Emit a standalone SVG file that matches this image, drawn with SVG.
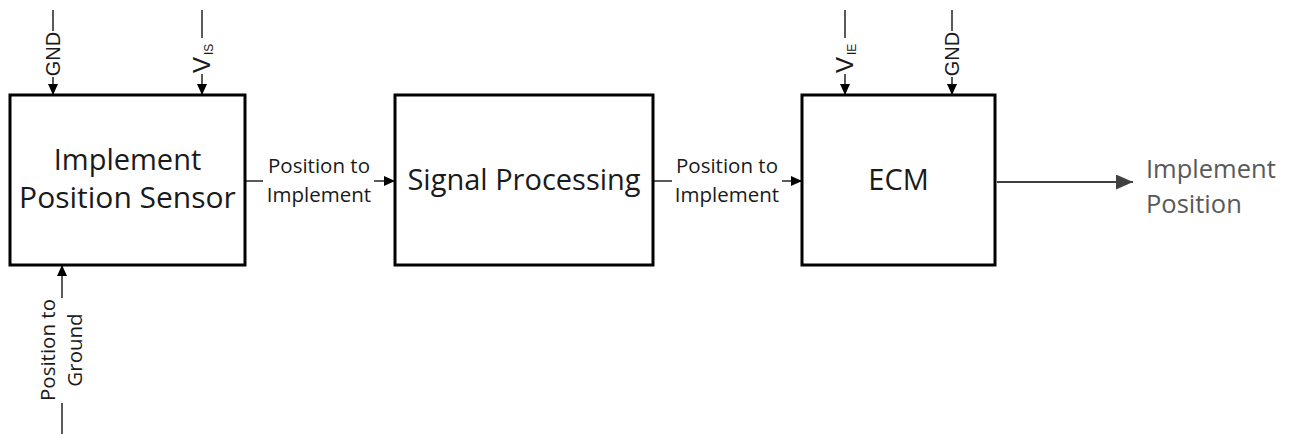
<svg xmlns="http://www.w3.org/2000/svg" width="1298" height="434" viewBox="0 0 1298 434">
  <style>
    .box { fill: #ffffff; stroke: #000000; stroke-width: 3; }
    .wire { stroke: #000000; stroke-width: 1.3; fill: none; }
    .big { font-family: "Open Sans", "Liberation Sans", sans-serif; font-size: 29px; fill: #1a1a1a; text-anchor: middle; }
    .lbl { font-family: "Open Sans", "Liberation Sans", sans-serif; font-size: 20.5px; fill: #1a1a1a; text-anchor: middle; }
    .pin { font-family: "Liberation Sans", Arial, sans-serif; font-size: 20px; fill: #1a1a1a; }
    .vv { font-size: 24px; }
    .sub { font-size: 12px; }
    .out { font-family: "Open Sans", "Liberation Sans", sans-serif; font-size: 25.5px; fill: #595959; }
  </style>
  <defs>
    <marker id="ah" markerWidth="11" markerHeight="10" refX="11" refY="5" orient="auto" markerUnits="userSpaceOnUse">
      <path d="M0,0 L11,5 L0,10 Z" fill="#000000"/>
    </marker>
    <marker id="ahOut" markerWidth="17" markerHeight="15" refX="17" refY="7.5" orient="auto" markerUnits="userSpaceOnUse">
      <path d="M0,0 L17,7.5 L0,15 Z" fill="#404040"/>
    </marker>
  </defs>

  <g id="connectors">
    <!-- top inputs to sensor -->
    <line class="wire" x1="53" y1="10" x2="53" y2="31"/>
    <line class="wire" x1="53" y1="77" x2="53" y2="95" marker-end="url(#ah)"/>
    <line class="wire" x1="202" y1="10" x2="202" y2="38"/>
    <line class="wire" x1="202" y1="74" x2="202" y2="95" marker-end="url(#ah)"/>
    <!-- top inputs to ECM -->
    <line class="wire" x1="845" y1="10" x2="845" y2="38"/>
    <line class="wire" x1="845" y1="74" x2="845" y2="95" marker-end="url(#ah)"/>
    <line class="wire" x1="952" y1="10" x2="952" y2="31"/>
    <line class="wire" x1="952" y1="77" x2="952" y2="95" marker-end="url(#ah)"/>
    <!-- bottom input -->
    <line class="wire" x1="62" y1="298" x2="62" y2="265" marker-end="url(#ah)"/>
    <line class="wire" x1="62" y1="403" x2="62" y2="434"/>
    <!-- sensor to processing -->
    <line class="wire" x1="246" y1="181" x2="263" y2="181"/>
    <line class="wire" x1="374" y1="181" x2="395" y2="181" marker-end="url(#ah)"/>
    <!-- processing to ECM -->
    <line class="wire" x1="654" y1="181" x2="672" y2="181"/>
    <line class="wire" x1="782" y1="181" x2="802" y2="181" marker-end="url(#ah)"/>
    <!-- output -->
    <line x1="997" y1="182" x2="1133" y2="182" stroke="#404040" stroke-width="2" marker-end="url(#ahOut)"/>

    <!-- connector labels -->
    <text class="pin" transform="translate(60,54) rotate(-90)" text-anchor="middle">GND</text>
    <text class="pin" transform="translate(959,54) rotate(-90)" text-anchor="middle">GND</text>
    <text class="pin" transform="translate(210,73) rotate(-90)"><tspan class="vv">V</tspan><tspan class="sub" dx="2" dy="3">IS</tspan></text>
    <text class="pin" transform="translate(853,73) rotate(-90)"><tspan class="vv">V</tspan><tspan class="sub" dx="2" dy="3">IE</tspan></text>
    <g transform="translate(0,350) rotate(-90)">
      <text class="lbl" x="0" y="55">Position to</text>
      <text class="lbl" x="0" y="82">Ground</text>
    </g>
    <text class="lbl" x="319" y="173">Position to</text>
    <text class="lbl" x="319" y="202">Implement</text>
    <text class="lbl" x="727" y="173">Position to</text>
    <text class="lbl" x="727" y="202">Implement</text>
  </g>

  <g id="sensor">
    <rect class="box" x="10" y="95" width="235" height="170"/>
    <text class="big" x="127.5" y="170">Implement</text>
    <text class="big" x="127.5" y="208" style="font-size:30px">Position Sensor</text>
  </g>

  <g id="processing">
    <rect class="box" x="395" y="95" width="258" height="170"/>
    <text class="big" x="524" y="190">Signal Processing</text>
  </g>

  <g id="ecm">
    <rect class="box" x="802" y="95" width="193" height="170"/>
    <text class="big" x="898.5" y="190">ECM</text>
  </g>

  <g id="output">
    <text class="out" x="1146" y="178">Implement</text>
    <text class="out" x="1146" y="213">Position</text>
  </g>
</svg>
